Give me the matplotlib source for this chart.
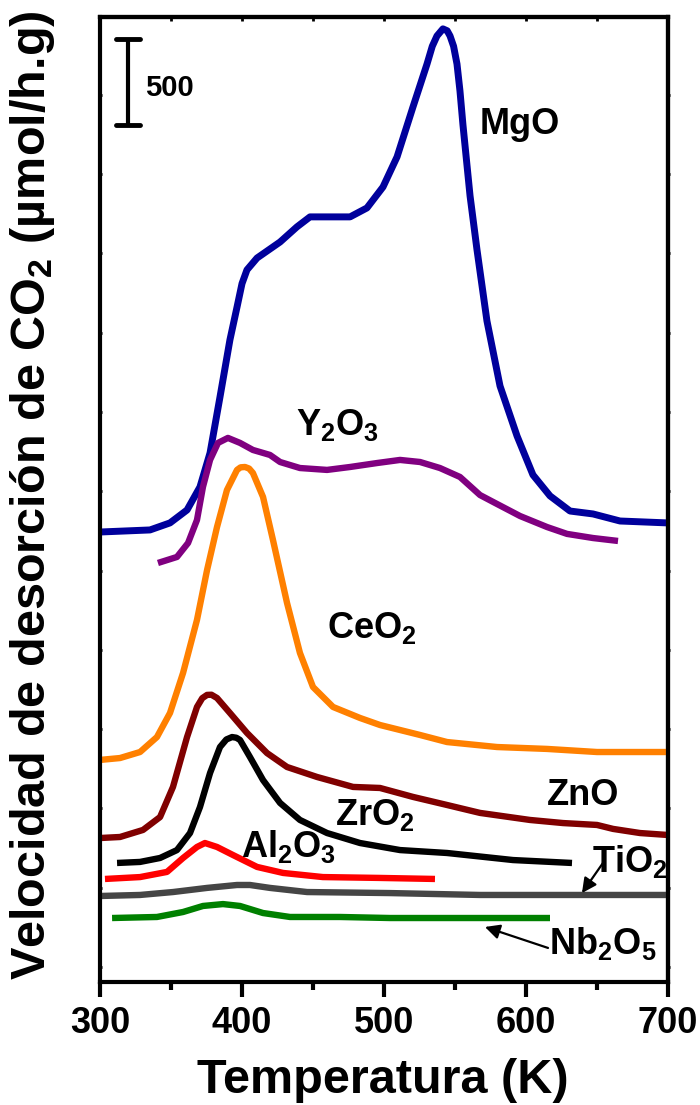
import numpy as np
import matplotlib
matplotlib.use('Agg')
import matplotlib.pyplot as plt
from matplotlib.ticker import MultipleLocator, FixedLocator, NullFormatter

plt.rcParams['font.family'] = ['Liberation Sans', 'DejaVu Sans']
plt.rcParams['font.weight'] = 'bold'
plt.rcParams['mathtext.fontset'] = 'custom'
plt.rcParams['mathtext.rm'] = 'Liberation Sans:bold'
plt.rcParams['mathtext.it'] = 'Liberation Sans:bold'
plt.rcParams['mathtext.bf'] = 'Liberation Sans:bold'
plt.rcParams['mathtext.sf'] = 'Liberation Sans:bold'
plt.rcParams['mathtext.default'] = 'regular'

# ---------------- data (temperature in K, stacked signal in µmol/h.g) ----------------
mgo_T = [300, 335.2, 349.3, 361.3, 370.4, 377.5, 384.5, 391.5, 396.5, 400.0, 403.5, 410.6, 426.8,
         438.7, 447.9, 476.1, 488.0, 499.3, 509.2, 520.4, 530.3, 534.0, 537.3, 541.5, 544.5, 546.5,
         549.0, 551.4, 553.5, 555.6, 560.6, 565.5, 572.5, 581.7, 593.7, 604.9, 616.9, 631.0,
         647.2, 666.2, 699.3]
mgo_v = [2616, 2628, 2669, 2744, 2878, 3076, 3401, 3733, 3924, 4060, 4140, 4209, 4302,
         4390, 4448, 4448, 4500, 4622, 4797, 5087, 5337, 5440, 5500, 5541, 5530, 5500,
         5440, 5337, 5180, 4983, 4570, 4256, 3843, 3465, 3174, 2948, 2826, 2738,
         2721, 2680, 2669]

y2o3_T = [340.8, 354.2, 362.0, 368.3, 372.5, 377.5, 383.1, 390.1, 398.6, 407.7, 419.7, 426.8,
          440.8, 459.9, 476.1, 495.1, 511.3, 525.4, 539.4, 553.5, 567.6, 576.8, 595.8, 614.8,
          628.9, 647.2, 664.8]
y2o3_v = [2436, 2471, 2552, 2686, 2878, 3035, 3134, 3163, 3134, 3093, 3064, 3023,
          2988, 2977, 2994, 3017, 3035, 3023, 2988, 2936, 2831, 2791, 2709, 2645,
          2605, 2581, 2564]

ceo2_T = [300, 314.1, 328.2, 340.1, 349.3, 358.5, 368.3, 375.4, 382.4, 389.4, 396.5, 399.0, 402.1,
          405.0, 407.7, 414.8, 421.8, 431.7, 440.8, 450.0, 464.1, 483.1, 497.2, 525.4, 544.4,
          579.6, 614.8, 650.0, 699.3]
ceo2_v = [1291, 1302, 1337, 1424, 1564, 1797, 2105, 2395, 2645, 2860, 2977, 2992, 2994,
          2985, 2959, 2820, 2570, 2204, 1913, 1715, 1599, 1535, 1494, 1436, 1395,
          1366, 1355, 1337, 1337]

zno_T = [300, 314.1, 330.3, 342.3, 351.4, 361.3, 368.3, 372.0, 375.4, 378.5, 382.4, 391.5, 403.5,
         417.6, 431.7, 452.8, 478.2, 497.2, 520.4, 544.4, 567.6, 602.8, 626.1, 650.0, 661.3,
         680.3, 699.3]
zno_v = [837, 843, 884, 959, 1134, 1424, 1599, 1650, 1669, 1670, 1651, 1564, 1448,
         1331, 1250, 1192, 1134, 1128, 1076, 1029, 983, 942, 924, 913, 890, 866, 855]

zro2_T = [312.0, 328.2, 342.3, 354.2, 363.4, 370.4, 377.5, 384.5, 389.0, 393.0, 396.0, 398.6,
          405.6, 414.8, 426.8, 440.8, 459.9, 483.1, 511.3, 544.4, 590.8, 632.4]
zro2_v = [692, 698, 721, 767, 866, 1017, 1215, 1366, 1410, 1424, 1420, 1407,
          1308, 1174, 1041, 942, 866, 808, 767, 750, 709, 692]

al2o3_T = [303.5, 328.2, 347.2, 358.5, 368.3, 373.9, 382.4, 393.7, 410.6, 428.9, 457.0, 497.2, 535.9]
al2o3_v = [599, 610, 640, 721, 785, 808, 785, 738, 669, 634, 610, 605, 599]

tio2_T = [300, 328.2, 351.4, 375.4, 396.5, 405.6, 419.7, 445.8, 504.2, 567.6, 699.3]
tio2_v = [500, 506, 523, 547, 564, 564, 547, 523, 517, 506, 506]

nb2o5_T = [308.5, 340.1, 358.5, 372.5, 386.6, 398.6, 414.8, 433.8, 469.0, 504.2, 616.9]
nb2o5_v = [372, 378, 407, 442, 453, 442, 401, 378, 378, 372, 372]

x_ticks = [300, 400, 500, 600, 700]
scale_bar_value = 500

# ---------------- figure ----------------
fig = plt.figure(figsize=(7.0, 11.05), dpi=100)
ax = fig.add_axes([100 / 700, 1 - 982 / 1105, 568 / 700, 965 / 1105])

series = [
    (mgo_T, mgo_v, '#00009C', 5.0),
    (y2o3_T, y2o3_v, '#800080', 4.6),
    (ceo2_T, ceo2_v, '#FF8000', 4.6),
    (zno_T, zno_v, '#800000', 4.6),
    (zro2_T, zro2_v, '#000000', 4.6),
    (al2o3_T, al2o3_v, '#FF0000', 4.6),
    (tio2_T, tio2_v, '#454545', 4.6),
    (nb2o5_T, nb2o5_v, '#008000', 4.6),
]
for T, v, c, lw in series:
    ax.plot(T, v, color=c, lw=lw, solid_joinstyle='round', solid_capstyle='butt')

ax.set_xlim(300, 700)
ax.set_ylim(0, 5610)

for s in ax.spines.values():
    s.set_linewidth(3)

ax.xaxis.set_major_locator(FixedLocator(x_ticks))
ax.xaxis.set_minor_locator(MultipleLocator(50))
ax.tick_params(axis='x', which='major', direction='out', length=11, width=3,
               labelsize=26, pad=6)
ax.tick_params(axis='x', which='minor', direction='out', length=6, width=3)
ax.yaxis.set_major_locator(FixedLocator(np.arange(87, 5610, 461)))
ax.yaxis.set_major_formatter(NullFormatter())
ax.tick_params(axis='y', which='major', direction='inout', length=3, width=2)
for lab in ax.get_xticklabels():
    lab.set_fontweight('bold')

secx = ax.secondary_xaxis('top')
secx.set_xticks(np.arange(350, 700, 50))
secx.tick_params(direction='in', length=3, width=2, labelsize=0)
secx.set_xticklabels([])
secx.spines['top'].set_linewidth(3)
secy = ax.secondary_yaxis('right')
secy.set_yticks(np.arange(87, 5610, 461))
secy.tick_params(direction='inout', length=3, width=2)
secy.set_yticklabels([])
secy.spines['right'].set_linewidth(3)

# scale bar
ax.plot([319.7, 319.7], [4983, 4983 + scale_bar_value], color='k', lw=3, solid_capstyle='butt')
ax.plot([311.5, 328.0], [4983, 4983], color='k', lw=3.5, solid_capstyle='round')
ax.plot([311.5, 328.0], [4983 + scale_bar_value] * 2, color='k', lw=3.5, solid_capstyle='round')
ax.text(331.5, 5198, str(scale_bar_value), fontsize=21, fontweight='bold', ha='left', va='center')

# labels
lab_kw = dict(fontsize=26, fontweight='bold', ha='center', va='center')
ax.text(595.8, 4983, 'MgO', **lab_kw)
ax.text(467.6, 3238, 'Y$_2$O$_3$', **lab_kw)
ax.text(491.5, 2058, 'CeO$_2$', **lab_kw)
ax.text(640.1, 1087, 'ZnO', **lab_kw)
ax.text(493.7, 971, 'ZrO$_2$', **lab_kw)
ax.text(433.1, 785, 'Al$_2$O$_3$', **lab_kw)
ax.text(673.2, 698, 'TiO$_2$', **lab_kw)
ax.text(654.2, 221, 'Nb$_2$O$_5$', **lab_kw)

arrow_kw = dict(arrowstyle='-|>', mutation_scale=22, lw=1.6, color='k',
                shrinkA=0, shrinkB=0)
ax.annotate('', xy=(639.4, 517), xytext=(654.2, 692), arrowprops=arrow_kw)
ax.annotate('', xy=(571.1, 320), xytext=(615.5, 198), arrowprops=arrow_kw)

fig.text(383 / 700, 12 / 1105, 'Temperatura (K)', fontsize=35, fontweight='bold',
         ha='center', va='baseline')
fig.text(33 / 700, 1 - 495 / 1105, 'Velocidad de desorción de CO$_2$ (µmol/h.g)',
         fontsize=35, fontweight='bold', rotation=90, ha='center', va='center')

fig.savefig('out.png', dpi=100)
